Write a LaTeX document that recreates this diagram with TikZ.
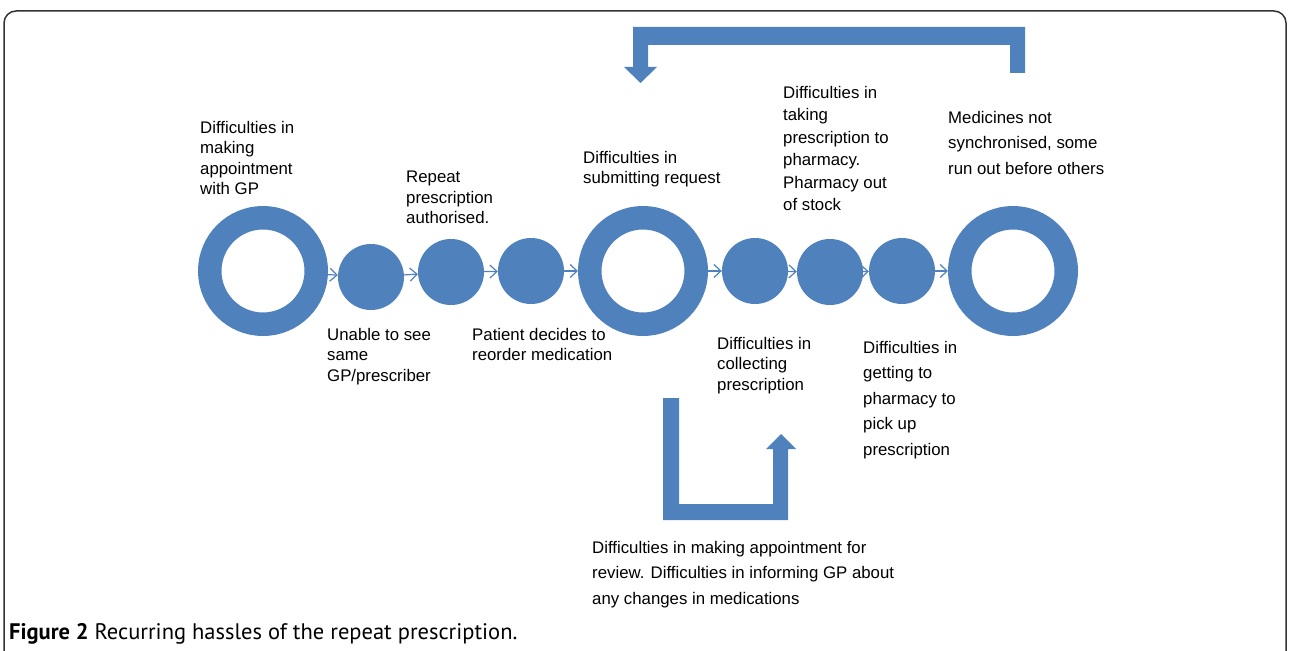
\documentclass[tikz,border=0pt]{standalone}
\usepackage{fontspec}
\setmainfont{Liberation Sans}
\newfontfamily\capfont{PT Sans}
\usepackage{tikz}
\usetikzlibrary{arrows.meta, positioning}
\definecolor{hassleblue}{HTML}{4F81BD}
\tikzset{
    ring/.style={circle, draw=hassleblue, line width=23.5pt, minimum size=106.5pt, inner sep=0pt},
    disk/.style={circle, fill=hassleblue, minimum size=66pt, inner sep=0pt},
    flow/.style={draw=hassleblue, line width=1.2pt, -{Straight Barb[length=7pt, width=13pt]}},
    lbl/.style={anchor=north west, inner sep=0pt, align=left, font=\fontsize{16.8}{#1}\selectfont},
    lbl/.default=20.5
}

\begin{document}
\begin{tikzpicture}[x=1pt, y=-1pt]
                        \useasboundingbox (0,0) rectangle (1289,650);
                        \draw[line width=1.5pt, color=black!80, rounded corners=12pt]
                        (4,680) -- (4,11) -- (1286,11) -- (1286,680);
                        \node[ring] (r1) at (263, 271) {};
                        \node[disk] (d1) at (371, 277) {};
                        \node[disk] (d2) at (451, 272) {};
                        \node[disk] (d3) at (531, 271) {};
                        \node[ring] (r2) at (643, 271) {};
                        \node[disk] (d4) at (755, 271) {};
                        \node[disk] (d5) at (830, 272) {};
                        \node[disk] (d6) at (902, 271) {};
                        \node[ring] (r3) at (1013, 271) {};
                        \draw[flow] (r1) -- (d1);
                        \draw[flow] (d1) -- (d2);
                        \draw[flow] (d2) -- (d3);
                        \draw[flow] (d3) -- (r2);
                        \draw[flow] (r2) -- (d4);
                        \draw[flow] (d4) -- (d5);
                        \draw[flow] (d5) -- (d6);
                        \draw[flow] (d6) -- (r3);
                        \fill[hassleblue]
                        (1025,73) -- (1025,27) -- (633,27) -- (633,67) -- (624,67) -- (640.5,83)
                        -- (657,67) -- (648,67) -- (648,45) -- (1010,45) -- (1010,73) -- cycle;
                        \fill[hassleblue]
                        (663,398) -- (679,398) -- (679,504) -- (773,504) -- (773,449) -- (766,449)
                        -- (781,434) -- (796,449) -- (788,449) -- (788,520) -- (663,520) -- cycle;
                        \node[lbl] (appt) at (200, 121) {Difficulties in\\making\\appointment\\with GP};
                        \node[lbl] (auth) at (406, 171) {Repeat\\prescription\\authorised.};
                        \node[lbl] (submit) at (583, 151) {Difficulties in\\submitting request};
                        \node[lbl=22.5] (taking) at (783, 86) {Difficulties in\\taking\\prescription to\\pharmacy.\\Pharmacy out\\of stock};
                        \node[lbl=25.5] (sync) at (948, 111) {Medicines not\\synchronised, some\\run out before others};
                        \node[lbl] (same) at (327, 328) {Unable to see\\same\\GP/prescriber};
                        \node[lbl] (reorder) at (472, 328) {Patient decides to\\reorder medication};
                        \node[lbl] (collect) at (717, 337) {Difficulties in\\collecting\\prescription};
                        \node[lbl=25.5] (getting) at (863, 341) {Difficulties in\\getting to\\pharmacy to\\pick up\\prescription};
                        \node[lbl=25.5] (review) at (592, 541) {Difficulties in making appointment for\\review. Difficulties in informing GP about\\any changes in medications};
                        \node[anchor=base west, inner sep=0pt, font=\capfont\fontsize{22.5}{26}\selectfont] (caption) at (9, 639)
                        {\textbf{Figure 2} Recurring hassles of the repeat prescription.};
                    \end{tikzpicture}
\end{document}
